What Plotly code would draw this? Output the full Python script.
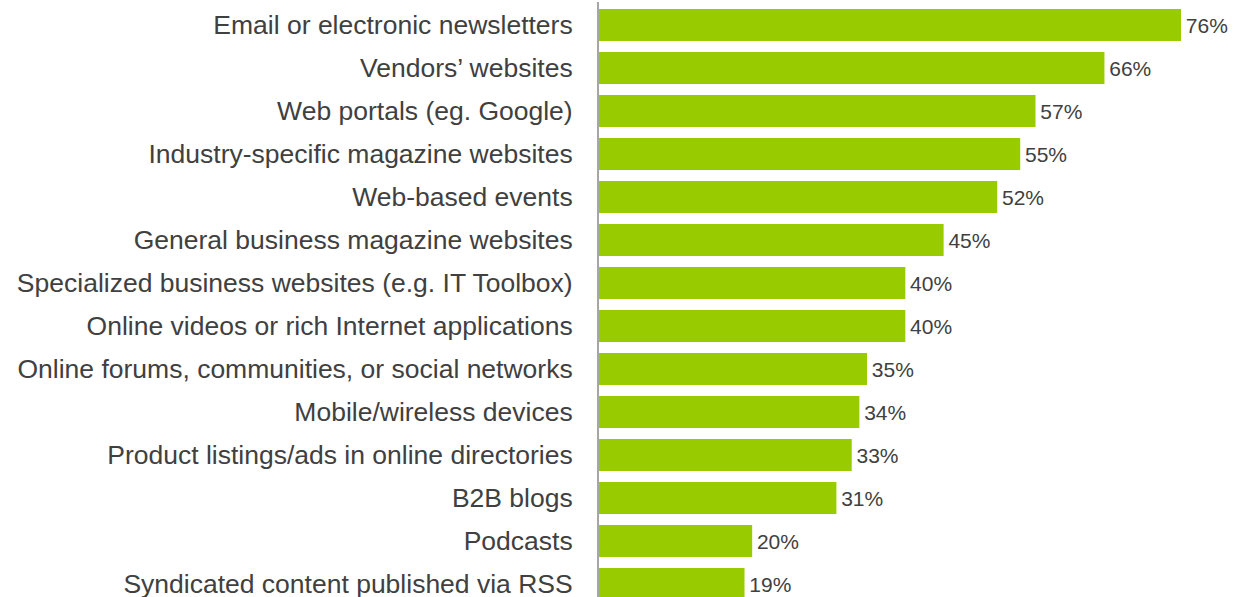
import plotly.graph_objects as go

CATEGORIES = [
    "Email or electronic newsletters",
    "Vendors’ websites",
    "Web portals (eg. Google)",
    "Industry-specific magazine websites",
    "Web-based events",
    "General business magazine websites",
    "Specialized business websites (e.g. IT Toolbox)",
    "Online videos or rich Internet applications",
    "Online forums, communities, or social networks",
    "Mobile/wireless devices",
    "Product listings/ads in online directories",
    "B2B blogs",
    "Podcasts",
    "Syndicated content published via RSS",
]
SHARE = [76, 66, 57, 55, 52, 45, 40, 40, 35, 34, 33, 31, 20, 19]

GREEN = "#99CC00"
INK = "#404040"
AXIS = "#A6A6A6"
FONT = "Liberation Sans, Arial, sans-serif"

fig = go.Figure(go.Bar(
    x=SHARE, y=CATEGORIES, orientation="h",
    marker=dict(color=GREEN, line=dict(width=0)),
    width=0.74,
    text=[f"\u200a{v}%" for v in SHARE], textposition="outside",
    textfont=dict(family=FONT, size=21, color=INK),
    cliponaxis=False,
))

fig.update_layout(
    template=None, width=1240, height=597,
    paper_bgcolor="white", plot_bgcolor="white",
    margin=dict(l=599, r=0, t=2, b=0),
    font=dict(family=FONT, color=INK),
    showlegend=False,
    xaxis=dict(range=[0, 83.7], visible=False, fixedrange=True),
    yaxis=dict(
        type="category", range=[13.302, -0.535],
        showline=True, linecolor=AXIS, linewidth=2,
        showgrid=False, zeroline=False, ticks="",
        tickfont=dict(size=26.5, color=INK),
        ticklabelstandoff=19, automargin=False,
    ),
)

# page body has a default 8px margin; drop it so the figure sits at the corner
fig.write_html("out.html", config={"displayModeBar": False},
               post_script="document.body.style.margin='0';")
